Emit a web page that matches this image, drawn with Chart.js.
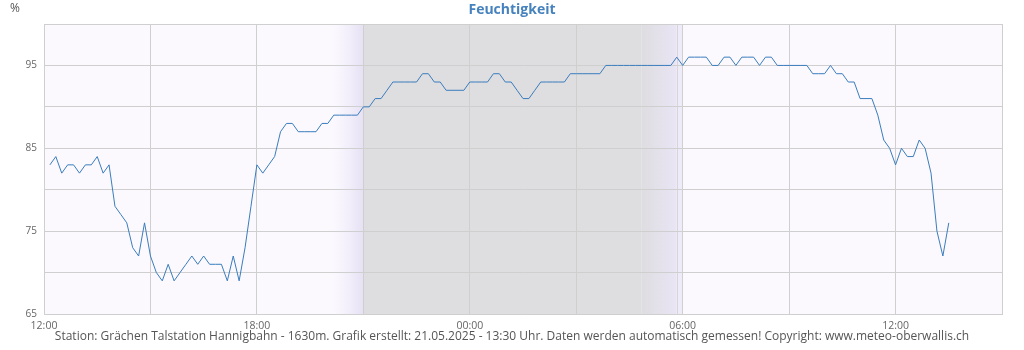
<!DOCTYPE html>
<html>
<head>
<meta charset="utf-8">
<script src="https://cdn.jsdelivr.net/npm/chart.js@4/dist/chart.umd.min.js"></script>
<style>
  html, body { margin: 0; padding: 0; background: #ffffff; }
  #wrap { width: 1024px; height: 350px; }
</style>
</head>
<body>
<div id="wrap"><canvas id="c" width="1024" height="350"></canvas></div>
<script>
// ---- Data ----
const chartTitle = "Feuchtigkeit";
const unitLabel = "%";
const footerText = "Station: Grächen Talstation Hannigbahn - 1630m. Grafik erstellt: 21.05.2025 - 13:30 Uhr. Daten werden automatisch gemessen! Copyright: www.meteo-oberwallis.ch";

const times = [
  "12:10","12:20","12:30","12:40","12:50",
  "13:00","13:10","13:20","13:30","13:40","13:50",
  "14:00","14:10","14:20","14:30","14:40","14:50",
  "15:00","15:10","15:20","15:30","15:40","15:50",
  "16:00","16:10","16:20","16:30","16:40","16:50",
  "17:00","17:10","17:20","17:30","17:40","17:50",
  "18:00","18:10","18:20","18:30","18:40","18:50",
  "19:00","19:10","19:20","19:30","19:40","19:50",
  "20:00","20:10","20:20","20:30","20:40","20:50",
  "21:00","21:10","21:20","21:30","21:40","21:50",
  "22:00","22:10","22:20","22:30","22:40","22:50",
  "23:00","23:10","23:20","23:30","23:40","23:50",
  "00:00","00:10","00:20","00:30","00:40","00:50",
  "01:00","01:10","01:20","01:30","01:40","01:50",
  "02:00","02:10","02:20","02:30","02:40","02:50",
  "03:00","03:10","03:20","03:30","03:40","03:50",
  "04:00","04:10","04:20","04:30","04:40","04:50",
  "05:00","05:10","05:20","05:30","05:40","05:50",
  "06:00","06:10","06:20","06:30","06:40","06:50",
  "07:00","07:10","07:20","07:30","07:40","07:50",
  "08:00","08:10","08:20","08:30","08:40","08:50",
  "09:00","09:10","09:20","09:30","09:40","09:50",
  "10:00","10:10","10:20","10:30","10:40","10:50",
  "11:00","11:10","11:20","11:30","11:40","11:50",
  "12:00","12:10","12:20","12:30","12:40","12:50",
  "13:00","13:10","13:20","13:30"
];

const humidity = [
  83,84,82,83,83,82,83,83,84,82,83,
  78,77,76,73,72,76,72,70,69,71,
  69,70,71,72,71,72,71,71,71,69,
  72,69,73,78,83,82,83,84,87,88,
  88,87,87,87,87,88,88,89,89,89,
  89,89,90,90,91,91,92,93,93,93,
  93,93,94,94,93,93,92,92,92,92,
  93,93,93,93,94,94,93,93,92,91,
  91,92,93,93,93,93,93,94,94,94,
  94,94,94,95,95,95,95,95,95,95,
  95,95,95,95,95,96,95,96,96,96,
  96,95,95,96,96,95,96,96,96,95,
  96,96,95,95,95,95,95,95,94,94,
  94,95,94,94,93,93,91,91,91,89,
  86,85,83,85,84,84,86,85,82,75,72,76
];

const axisStart = "12:00";
const axisEnd = "15:00";            // next day
const xTickLabels = ["12:00","18:00","00:00","06:00","12:00"];
const yTickLabels = [65, 75, 85, 95];
const yMin = 65, yMax = 100;
// twilight start, night start, night end, sunrise
const nightBand = ["20:10","21:00","04:50","05:50"];

// ---- helpers: convert "HH:MM" sequence into hours since axisStart ----
function toMinutes(s) { const p = s.split(":"); return (+p[0]) * 60 + (+p[1]); }
const startMin = toMinutes(axisStart);
function hoursSinceStart(s) {
  let m = toMinutes(s) - startMin;
  if (m < 0) m += 1440;
  return m / 60;
}
function seqHours(list) {
  let prev = -1, dayAdd = 0;
  return list.map(s => {
    let h = hoursSinceStart(s);
    if (h + dayAdd < prev) dayAdd += 24;
    h += dayAdd; prev = h; return h;
  });
}
const xHours = seqHours(times);
const points = humidity.map((v, i) => ({ x: xHours[i], y: v }));
const xMax = hoursSinceStart(axisEnd) + 24;
const nightHours = nightBand.map(hoursSinceStart);

Chart.defaults.font.family = "'Open Sans', 'Noto Sans', sans-serif";

const bgPlugin = {
  id: "bgPlugin",
  beforeDraw(chart) {
    const { ctx, chartArea: a, scales } = chart;
    const x = scales.x;
    ctx.save();
    ctx.fillStyle = "#fbf9fe";
    ctx.fillRect(a.left, a.top, a.right - a.left, a.bottom - a.top);
    const p0 = x.getPixelForValue(nightHours[0]);
    const p1 = x.getPixelForValue(nightHours[1]);
    const p2 = x.getPixelForValue(nightHours[2]);
    const p3 = x.getPixelForValue(nightHours[3]);
    const p4 = x.getPixelForValue(18);
    let g = ctx.createLinearGradient(p0, 0, p1, 0);
    g.addColorStop(0, "rgba(236,230,250,0)");
    g.addColorStop(1, "#e6e1f3");
    ctx.fillStyle = g;
    ctx.fillRect(p0, a.top, p1 - p0, a.bottom - a.top);
    ctx.fillStyle = "#dedde0";
    ctx.fillRect(p1, a.top, p2 - p1, a.bottom - a.top);
    g = ctx.createLinearGradient(p2, 0, p3, 0);
    g.addColorStop(0, "#dedde0");
    g.addColorStop(1, "#e9e5f5");
    ctx.fillStyle = g;
    ctx.fillRect(p2, a.top, p3 - p2, a.bottom - a.top);
    ctx.fillStyle = "#efecf9";
    ctx.fillRect(p3, a.top, p4 - p3, a.bottom - a.top);
    ctx.strokeStyle = "#dcd2dc";
    ctx.lineWidth = 1;
    ctx.beginPath();
    ctx.moveTo(Math.round(p3) + 0.5, a.top);
    ctx.lineTo(Math.round(p3) + 0.5, a.bottom);
    ctx.stroke();
    ctx.restore();
  },
  afterDraw(chart) {
    const { ctx, width } = chart;
    ctx.save();
    ctx.textBaseline = "middle";
    // unit label
    ctx.fillStyle = "#555555";
    ctx.font = "12px 'Open Sans', sans-serif";
    ctx.textAlign = "left";
    ctx.fillText(unitLabel, 10, 9);
    // title
    ctx.fillStyle = "#4682bd";
    ctx.font = "bold 14px 'Open Sans', sans-serif";
    ctx.textAlign = "center";
    ctx.fillText(chartTitle, width / 2, 10.5);
    // footer
    ctx.fillStyle = "#555555";
    ctx.font = "12px 'Open Sans', sans-serif";
    ctx.fillText(footerText, width / 2, 337);
    ctx.restore();
  }
};

new Chart(document.getElementById("c"), {
  type: "line",
  data: {
    datasets: [{
      data: points,
      borderColor: "#3a7dbd",
      borderWidth: 1,
      pointRadius: 0,
      tension: 0,
      fill: false
    }]
  },
  options: {
    responsive: false,
    animation: false,
    devicePixelRatio: 1,
    layout: { padding: { left: 0, right: 22, top: 24, bottom: 20.2 } },
    plugins: {
      legend: { display: false },
      tooltip: { enabled: false },
      title: { display: false },
      subtitle: { display: false }
    },
    scales: {
      x: {
        type: "linear",
        min: 0,
        max: xMax,
        afterFit(s) { s.height = 15.8; },
        grid: { color: "#cfcfcf", drawTicks: false, lineWidth: 1 },
        border: { color: "#cfcfcf" },
        ticks: {
          stepSize: 3,
          includeBounds: false,
          autoSkip: false,
          maxRotation: 0,
          padding: 6,
          color: "#666666",
          font: { size: 10.5 },
          callback(v) {
            const r = Math.round(v);
            return (r % 6 === 0 && xTickLabels[r / 6] !== undefined) ? xTickLabels[r / 6] : "";
          }
        }
      },
      y: {
        min: yMin,
        max: yMax,
        afterFit(s) { s.width = 44; },
        grid: { color: "#cfcfcf", drawTicks: false, lineWidth: 1 },
        border: { color: "#cfcfcf" },
        ticks: {
          stepSize: 5,
          autoSkip: false,
          padding: 7,
          color: "#666666",
          font: { size: 10 },
          callback(v) { return yTickLabels.includes(v) ? String(v) : ""; }
        }
      }
    }
  },
  plugins: [bgPlugin]
});
</script>
</body>
</html>
